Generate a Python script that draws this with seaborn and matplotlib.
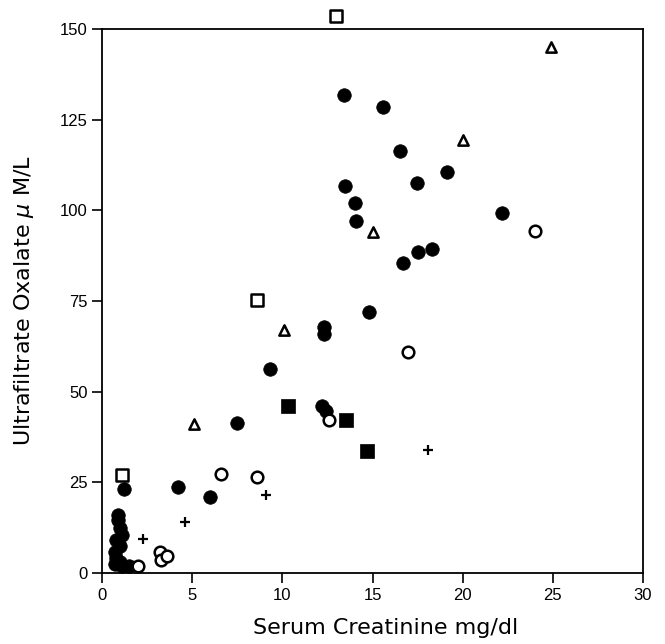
import pandas as pd
import matplotlib
matplotlib.use("Agg")
import matplotlib.pyplot as plt
import seaborn as sns

# values (serum creatinine mg/dl, oxalate uM/L)
filled_circle_x = [13.4, 15.6, 16.5, 19.15, 13.45, 17.45, 14.05, 14.1, 22.2, 18.3, 17.5, 16.7,
                   14.8, 12.3, 12.3, 9.3, 12.2, 12.4, 7.5, 4.2, 6.0, 1.2,
                   0.9, 0.9, 1.0, 1.1, 0.8, 1.0, 0.7, 0.8, 0.7, 1.1, 1.5, 1.0]
filled_circle_y = [131.7, 128.6, 116.3, 110.5, 106.7, 107.4, 102.0, 97.1, 99.2, 89.3, 88.6, 85.4,
                   72.0, 67.7, 65.9, 56.2, 46.0, 44.6, 41.4, 23.7, 21.1, 23.2,
                   16.0, 14.5, 12.5, 10.5, 9.0, 7.5, 5.8, 4.2, 2.5, 2.0, 2.0, 3.0]

open_circle_x = [24.0, 16.95, 12.6, 6.6, 8.6, 3.2, 3.25, 3.6, 2.0]
open_circle_y = [94.4, 61.0, 42.3, 27.4, 26.4, 5.7, 3.6, 4.7, 2.0]

triangle_x = [24.9, 20.0, 15.0, 10.1, 5.1]
triangle_y = [145.0, 119.4, 94.0, 67.0, 41.0]

open_square_x = [13.0, 8.6, 1.1]
open_square_y = [153.5, 75.3, 27.1]

filled_square_x = [10.3, 13.55, 14.7]
filled_square_y = [46.0, 42.2, 33.6]

plus_x = [18.05, 9.1, 4.6, 2.3]
plus_y = [34.0, 21.5, 14.0, 9.3]

groups = [
    ("filled circle", filled_circle_x, filled_circle_y),
    ("open circle", open_circle_x, open_circle_y),
    ("triangle", triangle_x, triangle_y),
    ("open square", open_square_x, open_square_y),
    ("filled square", filled_square_x, filled_square_y),
    ("plus", plus_x, plus_y),
]
df = pd.concat([pd.DataFrame({"group": g, "creat": x, "oxalate": y}) for g, x, y in groups],
               ignore_index=True)

sns.set_style("ticks")
plt.rcParams["font.family"] = ["Liberation Sans", "DejaVu Sans"]

fig = plt.figure(figsize=(6.65, 6.44), dpi=100)
ax = fig.add_axes([0.1534, 0.1102, 0.8136, 0.8448])

# marker, face colour, size, edge width per group
styles = {
    "filled circle": ("o", "black", 95, 0.5),
    "open circle": ("o", "white", 70, 1.8),
    "triangle": ("^", "white", 55, 1.8),
    "open square": ("s", "white", 70, 1.8),
    "filled square": ("s", "black", 90, 0.5),
    "plus": ("+", "black", 60, 1.6),
}
for name, (mk, fc, s, lw) in styles.items():
    sub = df[df["group"] == name]
    sns.scatterplot(data=sub, x="creat", y="oxalate", marker=mk, s=s,
                    color="black", facecolor=fc, edgecolor="black",
                    linewidth=lw, ax=ax, clip_on=False, zorder=3, legend=False)

ax.set_xlim(0, 30)
ax.set_ylim(0, 150)
ax.set_xticks(range(0, 31, 5))
ax.set_yticks(range(0, 151, 25))
ax.tick_params(direction="out", length=7, width=1.2, labelsize=12,
               colors="black", labelcolor="black")
for sp in ax.spines.values():
    sp.set_linewidth(1.3)
    sp.set_color("black")

lab_font = dict(family="DejaVu Sans", size=16, color="black")
ax.set_xlabel("Serum Creatinine mg/dl", fontdict=lab_font)
ax.set_ylabel(r"Ultrafiltrate Oxalate $\mu$ M/L", fontdict=lab_font)
ax.xaxis.set_label_coords(0.525, -0.082)
ax.yaxis.set_label_coords(-0.122, 0.5)

fig.savefig("out.png", dpi=100)
